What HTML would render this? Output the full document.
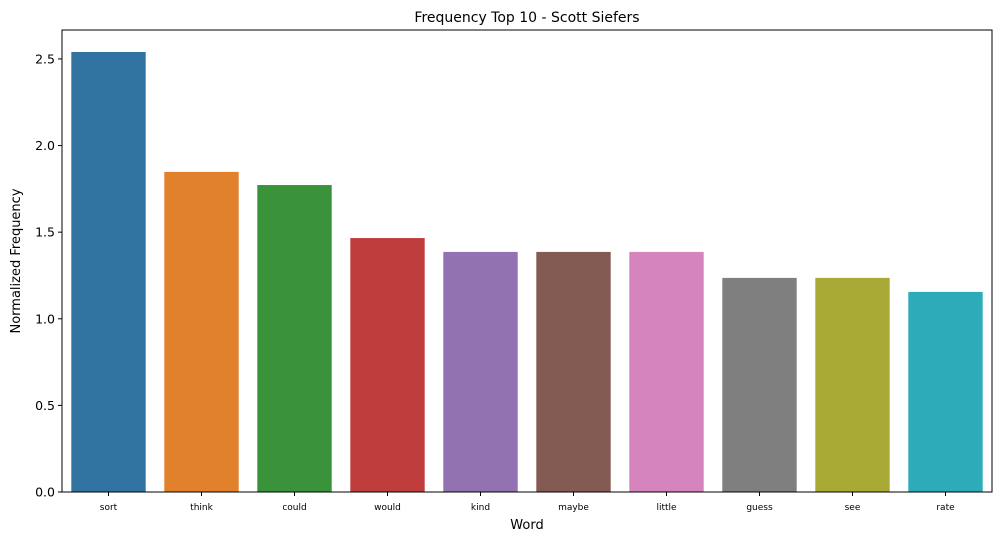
<!DOCTYPE html>
<html><head><meta charset="utf-8"><style>
body{margin:0;background:#fff;font-family:"Liberation Sans","DejaVu Sans",sans-serif;}
svg text{font-family:"DejaVu Sans","Liberation Sans",sans-serif;}
</style></head><body>
<svg id="chart" width="1004" height="541" xmlns="http://www.w3.org/2000/svg">
<rect width="1004" height="541" fill="#fff"/>
<text x="527" y="22" font-size="14" text-anchor="middle">Frequency Top 10 - Scott Siefers</text>
<g id="bars"></g>
<g id="yaxis"></g>
<g id="xaxis"></g>
<rect x="62" y="30" width="930" height="462" fill="none" stroke="#000" stroke-width="1"/>
<text x="527" y="529" font-size="13" text-anchor="middle">Word</text>
<text transform="translate(20,261) rotate(-90)" font-size="13" text-anchor="middle">Normalized Frequency</text>
</svg>
<script>
const categories=["sort","think","could","would","kind","maybe","little","guess","see","rate"];
const values=[2.54,1.848,1.772,1.466,1.386,1.386,1.386,1.236,1.236,1.155];
const colors=["#3274a1","#e1812c","#3a923a","#c03d3e","#9372b2","#845b53","#d684bd","#7f7f7f","#a9aa35","#2eabb8"];
const yTicks=[0,0.5,1.0,1.5,2.0,2.5];
const yTickLabels=["0.0","0.5","1.0","1.5","2.0","2.5"];
const NS="http://www.w3.org/2000/svg";
const L=62,R=992,T=30,B=492;
const yMax=2.667;
function y(v){return B-(v/yMax)*(B-T);}
const step=(R-L)/categories.length;
function x(i){return L+step*(i+0.5);}
const bars=document.getElementById('bars'),xa=document.getElementById('xaxis'),ya=document.getElementById('yaxis');
categories.forEach((c,i)=>{
 const r=document.createElementNS(NS,'rect');
 
 
 const w=step*0.8;
 r.setAttribute('x',x(i)-w/2);r.setAttribute('width',w);
 r.setAttribute('y',y(values[i]));r.setAttribute('height',B-y(values[i]));
 r.setAttribute('fill',colors[i]);bars.appendChild(r);
 const t=document.createElementNS(NS,'line');
 
 
 t.setAttribute('x1',x(i));t.setAttribute('x2',x(i));t.setAttribute('y1',B);t.setAttribute('y2',B+4);t.setAttribute('stroke','#000');xa.appendChild(t);
 const l=document.createElementNS(NS,'text');
 
 
 l.setAttribute('x',x(i));l.setAttribute('y',B+18);l.setAttribute('font-size','9');l.setAttribute('text-anchor','middle');l.textContent=c;xa.appendChild(l);
});
yTicks.forEach((v,i)=>{
 const t=document.createElementNS(NS,'line');
 
 
 t.setAttribute('x1',L-4);t.setAttribute('x2',L);t.setAttribute('y1',y(v));t.setAttribute('y2',y(v));t.setAttribute('stroke','#000');ya.appendChild(t);
 const l=document.createElementNS(NS,'text');
 
 
 l.setAttribute('x',L-7);l.setAttribute('y',y(v)+4.5);l.setAttribute('font-size','12.5');l.setAttribute('text-anchor','end');l.textContent=yTickLabels[i];ya.appendChild(l);
});
</script>
</body></html>
